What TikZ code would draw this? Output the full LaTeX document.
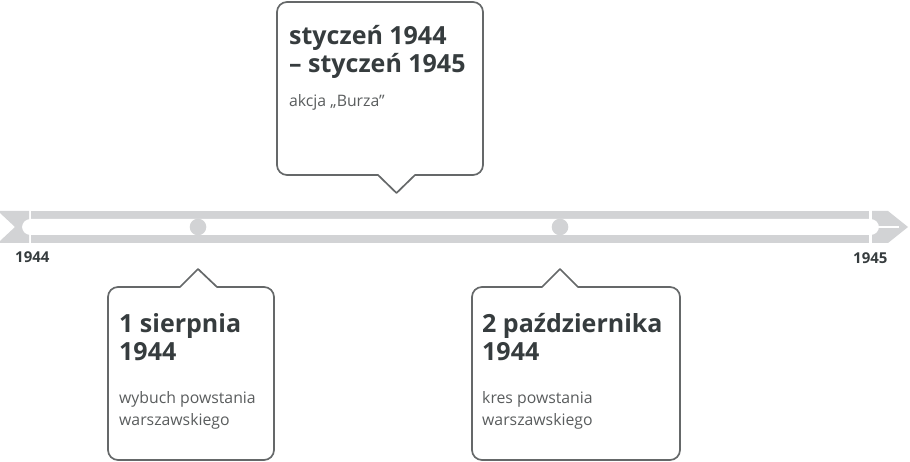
\documentclass[tikz,border=0pt]{standalone}
\usepackage{fontspec}
\setmainfont{Open Sans}
\definecolor{bargray}{HTML}{D2D3D5}
\definecolor{boxline}{HTML}{656869}
\definecolor{titlecol}{HTML}{363C3E}
\definecolor{subcol}{HTML}{5A5D5E}
\begin{document}
\begin{tikzpicture}[x=1pt, y=-1pt,
  callbox/.style={draw=boxline, line width=1.7pt, fill=white, line join=round},
  title/.style={anchor=base west, inner sep=0pt, text=titlecol, font=\fontsize{25}{28}\selectfont\bfseries},
  sub/.style={anchor=base west, inner sep=0pt, text=subcol, font=\fontsize{15.8}{22}\selectfont},
  year/.style={anchor=base west, inner sep=0pt, text=titlecol, font=\fontsize{15}{16}\selectfont\bfseries},
  dot/.style={circle, fill=bargray, inner sep=0pt, minimum size=16.6pt}]
\useasboundingbox (0,0) rectangle (910,462);
\fill[bargray] (0,211) -- (29,211) -- (29,243) -- (0,243) -- (0,241) -- (15,227) -- (0,213) -- cycle;
\fill[bargray] (31,211) rectangle (869,243);
\fill[bargray] (872,211) -- (888,211) -- (908,227) -- (888,243) -- (872,243) -- cycle;
\fill[white, rounded corners=8.5pt] (22,219) rectangle (879,235);
\draw[white, line width=1.2pt] (878,227) -- (899,227);
\node[dot] (D_0) at (198,227) {};
\node[dot] (D_1) at (560,227) {};
\node[year] (Y_0) at (15,263) {1944};
\node[year] (Y_1) at (853,264) {1945};
\draw[callbox] (277,88) [rounded corners=10pt] -- (277,2) -- (483,2) -- (483,175) -- (430,175) [sharp corners] -- (415,175) -- (396.5,193) -- (378,175) -- (360,175) [rounded corners=10pt] -- (277,175) -- cycle;
\node[title] (B_0_0) at (289,45) {styczeń 1944};
\node[title] (B_0_1) at (289,73) {– styczeń 1945};
\node[sub] (B_0_2) at (289,107) {akcja „Burza”};
\draw[callbox] (108,370) [rounded corners=10pt] -- (108,460) -- (274,460) -- (274,287) -- (230,287) [sharp corners] -- (217,287) -- (198,269) -- (180,287) -- (165,287) [rounded corners=10pt] -- (108,287) -- cycle;
\node[title] (B_1_0) at (119,332) {1 sierpnia};
\node[title] (B_1_1) at (119,360) {1944};
\node[sub] (B_1_2) at (119,403) {wybuch powstania};
\node[sub] (B_1_3) at (119,425) {warszawskiego};
\draw[callbox] (472,370) [rounded corners=10pt] -- (472,460) -- (680,460) -- (680,287) -- (595,287) [sharp corners] -- (578,287) -- (560,269) -- (542,287) -- (525,287) [rounded corners=10pt] -- (472,287) -- cycle;
\node[title] (B_2_0) at (482,332) {2 października};
\node[title] (B_2_1) at (482,360) {1944};
\node[sub] (B_2_2) at (482,403) {kres powstania};
\node[sub] (B_2_3) at (482,425) {warszawskiego};
\end{tikzpicture}
\end{document}
